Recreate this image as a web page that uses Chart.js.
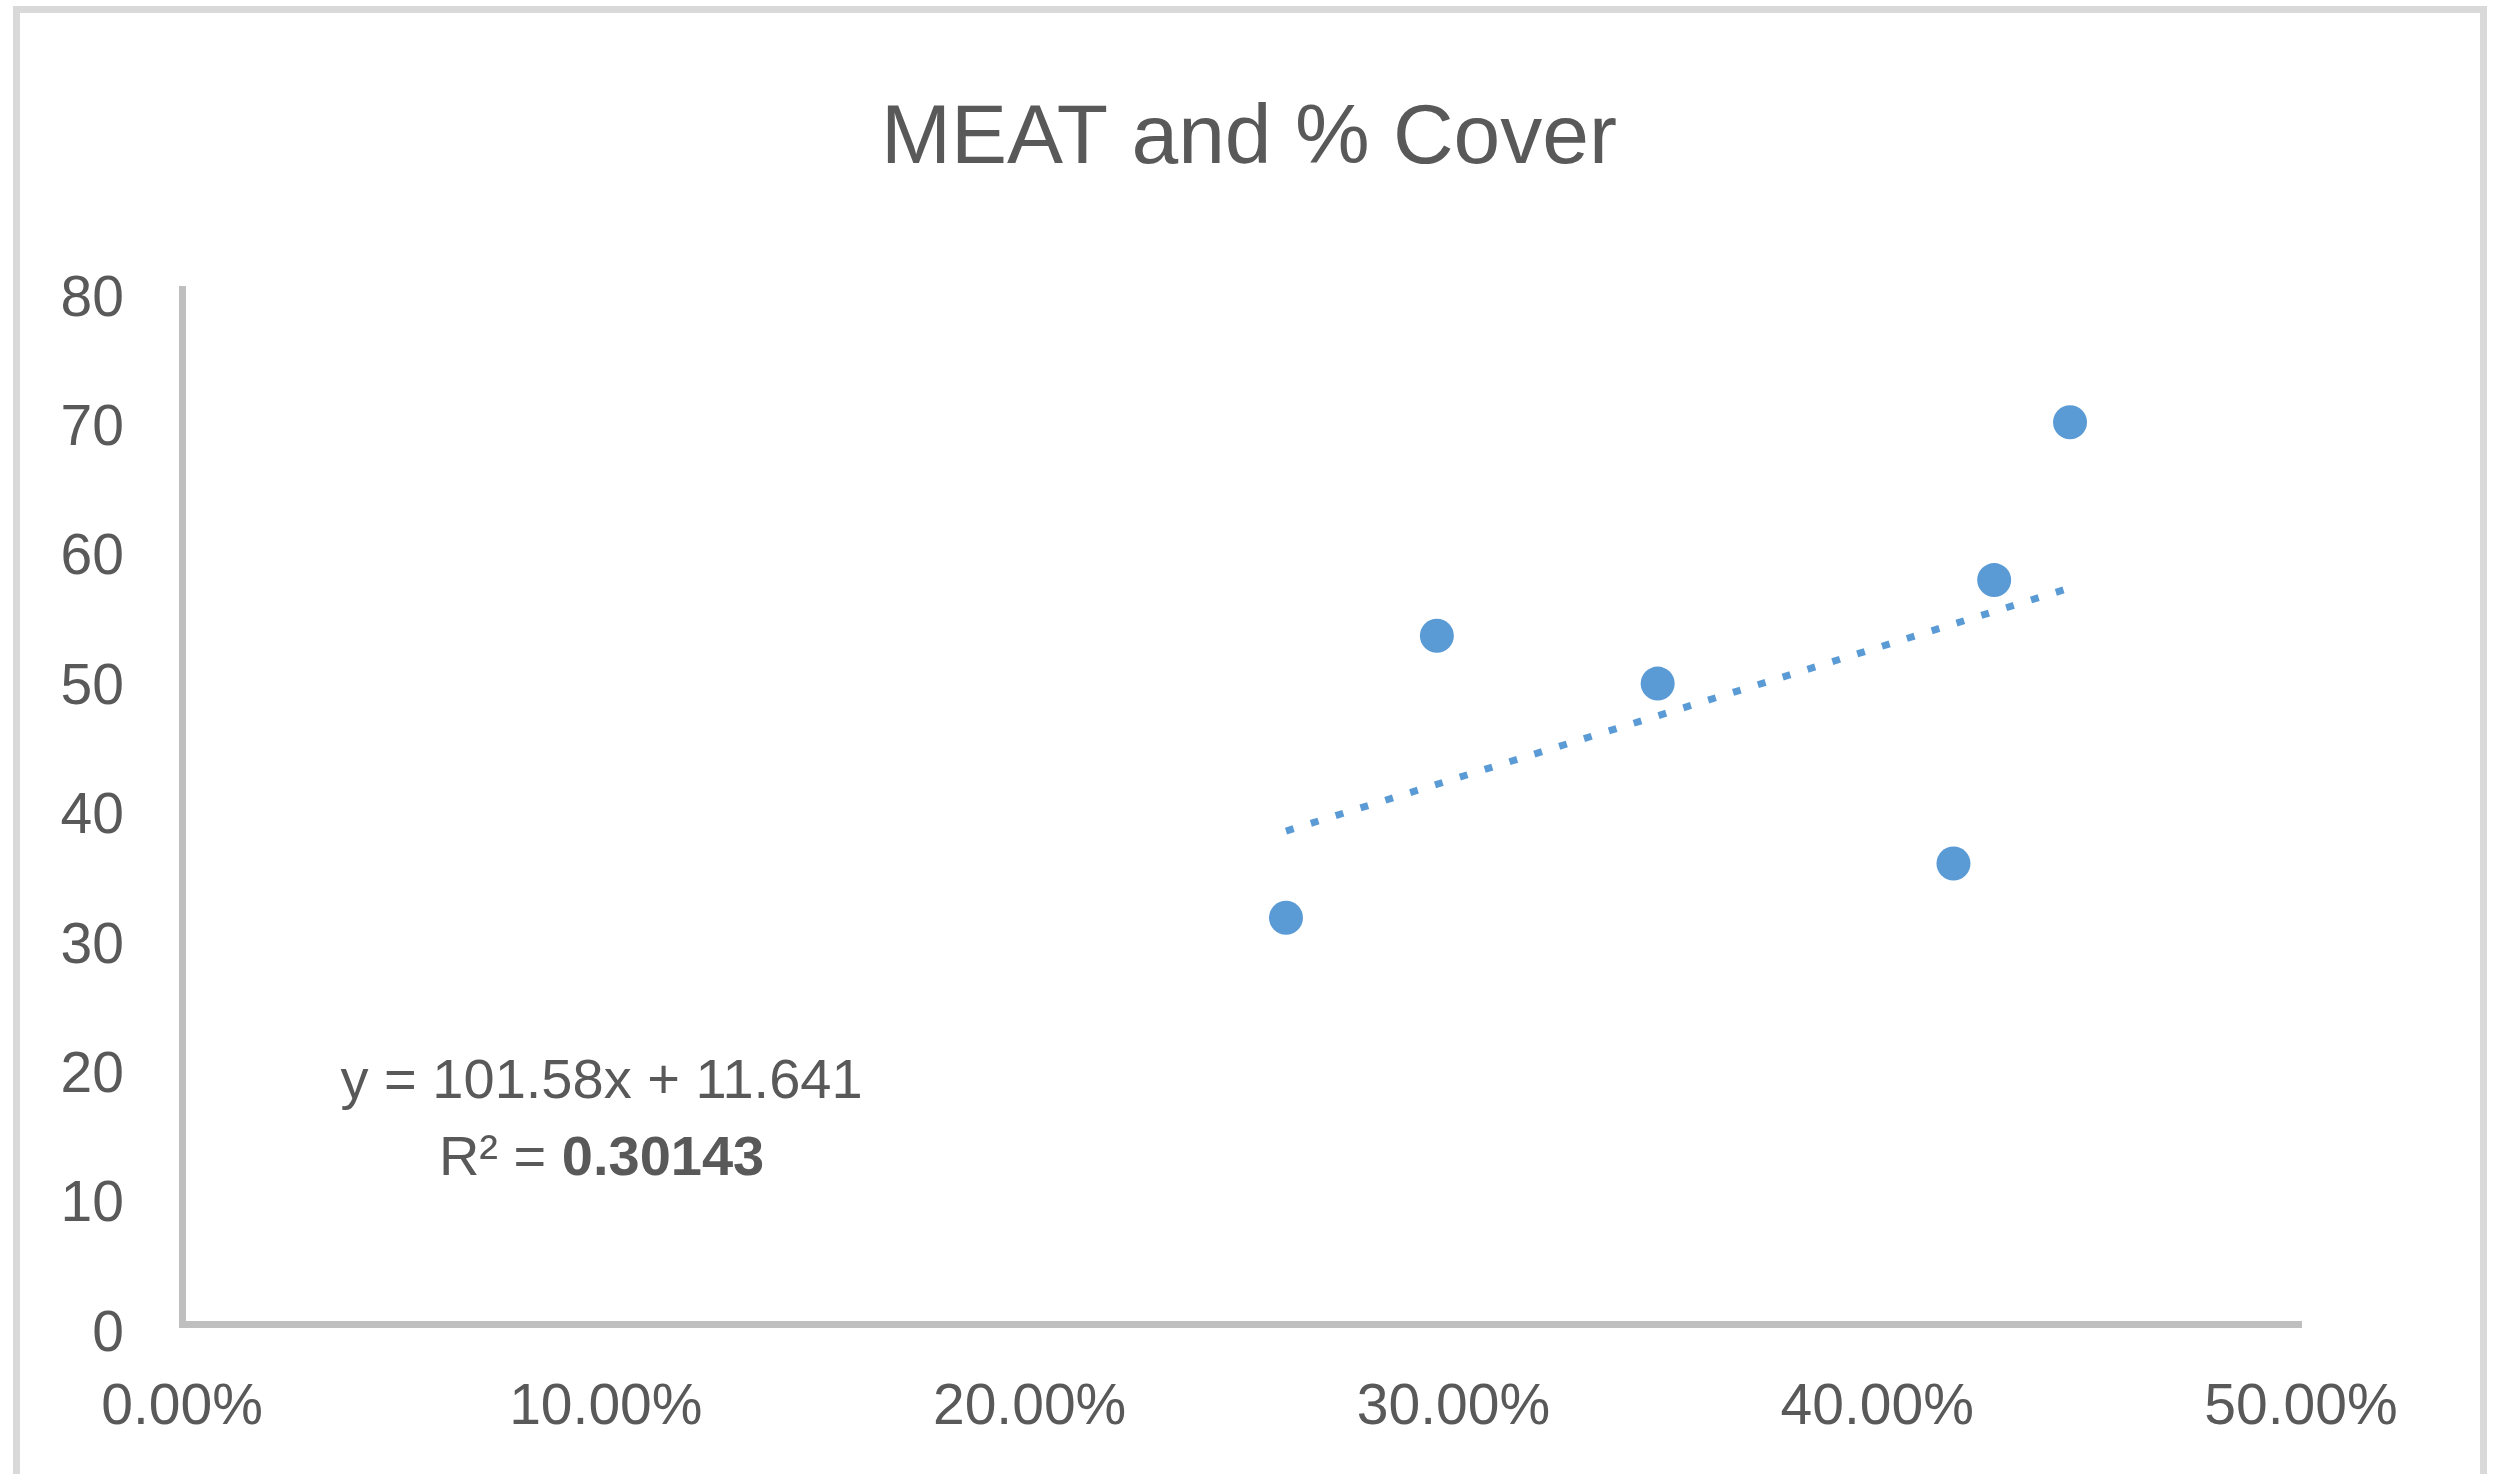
<!DOCTYPE html>
<html>
<head>
<meta charset="utf-8">
<title>MEAT and % Cover</title>
<script src="https://cdn.jsdelivr.net/npm/chart.js@4.4.0/dist/chart.umd.min.js"></script>
<style>
  html, body { margin: 0; padding: 0; background: #fff; overflow: hidden; }
  #frame {
    position: absolute; left: 13px; top: 6px;
    width: 2474px; height: 1520px;
    box-sizing: border-box; border: 7px solid #d9d9d9;
  }
  #chart { position: absolute; left: 0; top: 0; }
</style>
</head>
<body>
<div id="frame"></div>
<canvas id="chart" width="2498" height="1474"></canvas>
<script>
// % cover (fraction) vs MEAT score
const coverPct = [0.2605, 0.2961, 0.3482, 0.4180, 0.4276, 0.4455];
const meatScore = [31.4, 53.2, 49.5, 35.6, 57.5, 69.7];

const yTickValues = [0, 10, 20, 30, 40, 50, 60, 70, 80];
const xTickValues = [0, 0.1, 0.2, 0.3, 0.4, 0.5];

// linear trendline as reported on the chart
const trendSlope = 101.58;
const trendIntercept = 11.641;
const trendR2 = "0.30143";

const TEXT = "#595959";
const DOT = "#5b9bd5";
const AXIS = "#bfbfbf";
const FONT = "'Liberation Sans', Arial, sans-serif";

function formatPercent(v) {
  return `${(v * 100).toFixed(2)}%`;
}

const points = coverPct.map((x, i) => ({ x, y: meatScore[i] }));
const xMin = Math.min(...coverPct);
const xMax = Math.max(...coverPct);
const trendPoints = [xMin, xMax].map((x) => ({ x, y: trendSlope * x + trendIntercept }));

// title and trendline equation drawn straight onto the canvas
const chartText = {
  id: "chartText",
  afterDraw(chart) {
    const { ctx, scales } = chart;
    ctx.save();
    ctx.fillStyle = TEXT;
    ctx.textBaseline = "alphabetic";

    ctx.font = `84px ${FONT}`;
    ctx.textAlign = "center";
    ctx.fillText("MEAT and % Cover", chart.width / 2, 163);

    const cx = scales.x.getPixelForValue(0.099);
    const y1 = scales.y.getPixelForValue(19) + 20;
    const y2 = scales.y.getPixelForValue(13.1) + 20;
    ctx.font = `56px ${FONT}`;
    ctx.fillText(`y = ${trendSlope}x + ${trendIntercept}`, cx, y1);

    const lead = "R² = ";
    ctx.font = `56px ${FONT}`;
    const w1 = ctx.measureText(lead).width;
    ctx.font = `bold 56px ${FONT}`;
    const w2 = ctx.measureText(trendR2).width;
    const start = cx - (w1 + w2) / 2;
    ctx.textAlign = "left";
    ctx.font = `56px ${FONT}`;
    ctx.fillText(lead, start, y2);
    ctx.font = `bold 56px ${FONT}`;
    ctx.fillText(trendR2, start + w1, y2);
    ctx.restore();
  },
};

new Chart(document.getElementById("chart"), {
  type: "scatter",
  data: {
    datasets: [
      {
        label: "MEAT",
        data: points,
        pointRadius: 17,
        pointHoverRadius: 17,
        pointBackgroundColor: DOT,
        pointBorderWidth: 0,
        order: 1,
      },
      {
        label: "Linear (MEAT)",
        data: trendPoints,
        showLine: true,
        borderColor: DOT,
        borderWidth: 7,
        borderDash: [8, 18],
        pointRadius: 0,
        order: 2,
      },
    ],
  },
  options: {
    responsive: false,
    animation: false,
    events: [],
    layout: { padding: { top: 289, left: 0, right: 197, bottom: 0 } },
    plugins: {
      legend: { display: false },
      title: { display: false },
      tooltip: { enabled: false },
    },
    scales: {
      x: {
        type: "linear",
        min: 0,
        max: 0.5,
        afterFit: (s) => { s.height = 150; },
        afterBuildTicks: (s) => { s.ticks = xTickValues.map((v) => ({ value: v })); },
        grid: { display: false, drawTicks: false },
        border: { color: AXIS, width: 7 },
        ticks: {
          color: TEXT,
          padding: 50,
          maxRotation: 0,
          font: { family: FONT, size: 57 },
          callback: (v) => formatPercent(v),
        },
      },
      y: {
        type: "linear",
        min: 0,
        max: 80,
        afterFit: (s) => { s.width = 182; },
        afterBuildTicks: (s) => { s.ticks = yTickValues.map((v) => ({ value: v })); },
        grid: { display: false, drawTicks: false },
        border: { color: AXIS, width: 7 },
        ticks: {
          color: TEXT,
          padding: 58,
          labelOffset: 11,
          font: { family: FONT, size: 57 },
        },
      },
    },
  },
  plugins: [chartText],
});
</script>
</body>
</html>
